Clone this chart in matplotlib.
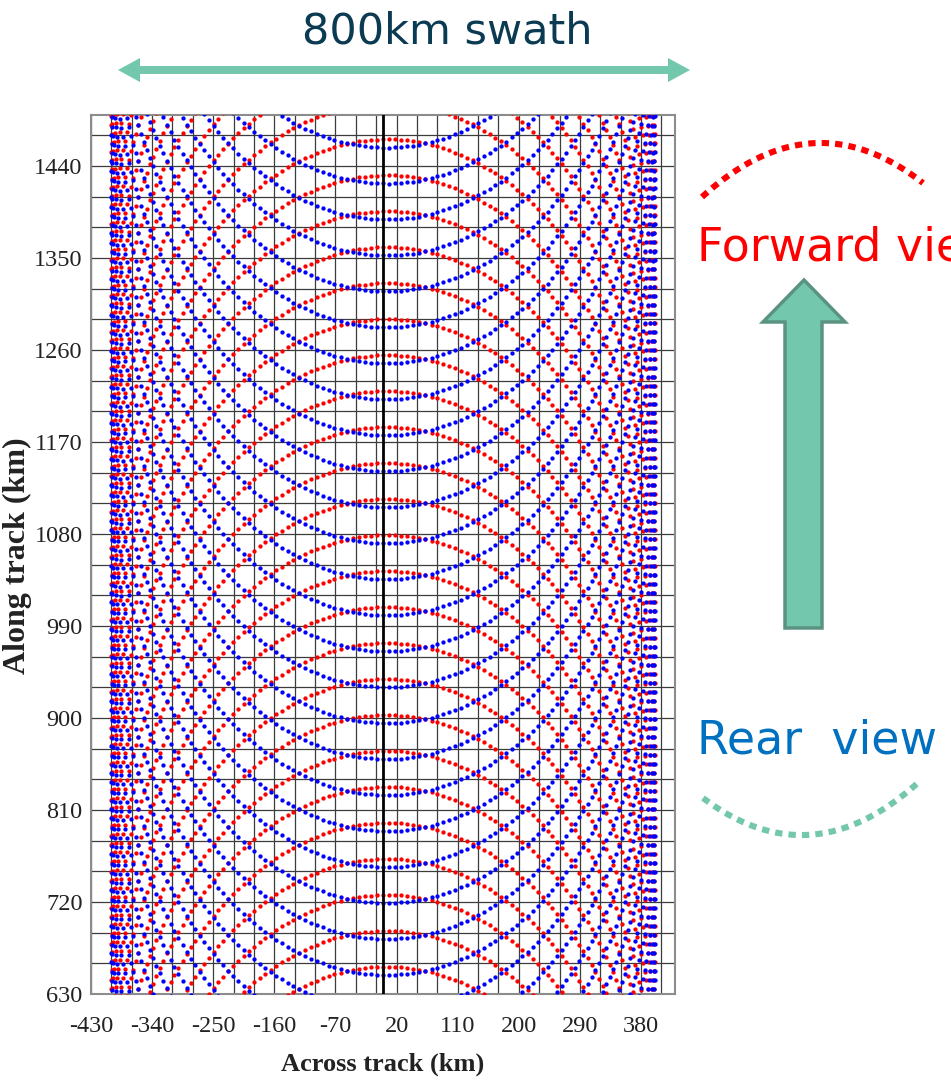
"""
Conical scan footprint: forward (red) and rear (blue) view arcs
"""
import numpy as np
import matplotlib.pyplot as plt
from matplotlib.patches import Polygon

# scan geometry (km)
swath_radius = 400.0        # half swath, arcs pile up at +-400 km
along_step = 35.2           # along-track advance per antenna rotation
samples_per_rot = 280       # footprints per rotation (~9 km apart at nadir)
fwd_apex = 1184.6           # along-track position of one forward arc apex

xlim = (-430, 430)
ylim = (630, 1490)
xticks = list(range(-430, 381, 90))
yticks = list(range(630, 1441, 90))
grid_step = 30

red = '#ff0000'
blue = '#0000ff'
teal = '#73c7ac'
teal_edge = '#5b9382'


def scan_points():
    n_rot = int((ylim[1] - ylim[0] + 4 * swath_radius) / along_step) + 4
    k = np.arange(-n_rot * samples_per_rot // 2, n_rot * samples_per_rot // 2)
    phi = 2 * np.pi * k / samples_per_rot
    x = swath_radius * np.sin(phi)
    y = fwd_apex - swath_radius + along_step * k / samples_per_rot + swath_radius * np.cos(phi)
    fwd = np.cos(phi) >= 0
    return x, y, fwd


def quad_through(p0, p1, p2, n=60):
    xs = np.array([p0[0], p1[0], p2[0]], float)
    ys = np.array([p0[1], p1[1], p2[1]], float)
    c = np.polyfit(xs, ys, 2)
    xx = np.linspace(xs[0], xs[2], n)
    return xx, np.polyval(c, xx)


if __name__ == '__main__':
    plt.rc('axes', unicode_minus=False)
    W, H = 951, 1092
    fig = plt.figure(figsize=(W / 100, H / 100), dpi=100)

    ax = fig.add_axes([91 / W, 1 - 994 / H, 584 / W, 879 / H])
    x, y, fwd = scan_points()
    ax.plot(x[fwd], y[fwd], 'o', color=red, ms=3.1, mew=0, zorder=3)
    ax.plot(x[~fwd], y[~fwd], 'o', color=blue, ms=3.1, mew=0, zorder=3)
    ax.axvline(0, color='black', lw=2.0, zorder=4)

    ax.set_xlim(*xlim)
    ax.set_ylim(*ylim)
    ax.set_xticks(xticks)
    ax.set_yticks(yticks)
    ax.set_xticks(np.arange(xlim[0], xlim[1] + 1, grid_step), minor=True)
    ax.set_yticks(np.arange(ylim[0], ylim[1] + 1, grid_step), minor=True)
    ax.grid(which='both', color='#3c3c3c', lw=0.9, zorder=1)
    ax.set_axisbelow(True)
    ax.tick_params(which='both', length=0)
    ax.tick_params(axis='x', pad=16)
    ax.tick_params(axis='y', pad=6)
    for lab in ax.get_xticklabels() + ax.get_yticklabels():
        lab.set_fontfamily('Liberation Serif')
        lab.set_fontsize(17.5)
        lab.set_color('#222222')
    for sp in ax.spines.values():
        sp.set_color('#8c8c8c')
        sp.set_linewidth(1.5)

    fig.text(383 / W, 1 - 1064 / H, 'Across track (km)', ha='center', va='center',
             family='Liberation Serif', weight='bold', size=19, color='#222222')
    fig.text(17 / W, 1 - 556 / H, 'Along track (km)', ha='center', va='center',
             rotation=90, family='Liberation Serif', weight='bold', size=23, color='#222222')

    # overlay in pixel coordinates for the slide annotations
    ov = fig.add_axes([0, 0, 1, 1], zorder=5)
    ov.set_xlim(0, W)
    ov.set_ylim(H, 0)
    ov.axis('off')

    ov.text(447, 32, '800km swath', ha='center', va='center', size=31,
            family='DejaVu Sans', color='#0b3a53')
    swath = [(118, 70), (140, 58), (140, 66), (668, 66), (668, 58), (690, 70),
             (668, 82), (668, 74), (140, 74), (140, 82)]
    ov.add_patch(Polygon(swath, closed=True, fc=teal, ec='none'))

    up = [(785, 628), (822, 628), (822, 322), (845, 322), (804, 280), (763, 322), (785, 322)]
    ov.add_patch(Polygon(up, closed=True, fc=teal, ec=teal_edge, lw=2.5))

    # the slide cuts this label at its right edge
    ov.text(697, 248, 'Forward view', ha='left', va='center', size=33,
            family='DejaVu Sans', color=red, clip_on=False)
    ov.text(697, 741, 'Rear  view', ha='left', va='center', size=33,
            family='DejaVu Sans', color='#0070c0')

    ax_, ay_ = quad_through((702, 197), (822, 143), (923, 183))
    ov.plot(ax_, ay_, color=red, lw=4.4, ls=(0, (1.2, 1.0)), solid_capstyle='butt')
    bx_, by_ = quad_through((703, 798), (805, 835), (921, 780))
    ov.plot(bx_, by_, color=teal, lw=4.4, ls=(0, (1.2, 1.0)), solid_capstyle='butt')

    fig.savefig('out.png', dpi=100)
    plt.close()
